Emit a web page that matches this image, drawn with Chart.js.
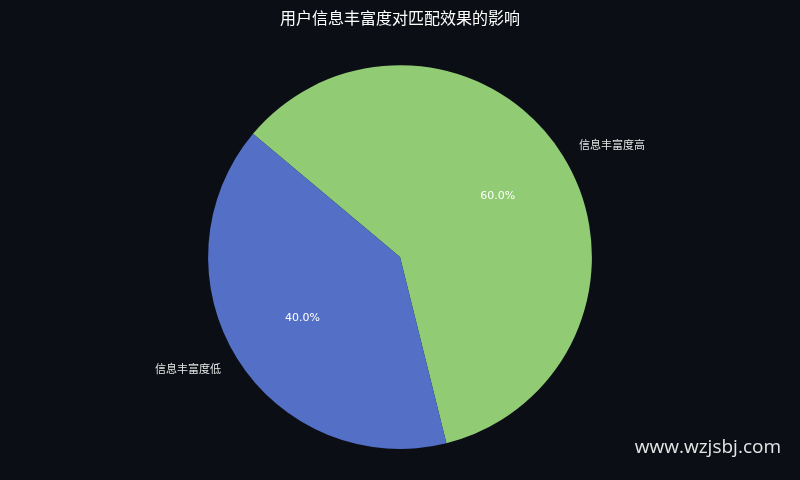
<!DOCTYPE html>
<html>
<head>
<meta charset="utf-8">
<script src="https://cdn.jsdelivr.net/npm/chart.js@4/dist/chart.umd.min.js"></script>
<style>
  html, body { margin: 0; padding: 0; background: #0b0e14; }
  #wrap { width: 800px; height: 480px; }
</style>
</head>
<body>
<div id="wrap"><canvas id="pie"></canvas></div>
<script>
// 데이터
const labels = ["信息丰富度高", "信息丰富度低"];
const values = [60, 40];
const colors = ["#91cc75", "#5470c6"];
const chartTitle = "用户信息丰富度对匹配效果的影响";
const watermark = "www.wzjsbj.com";

Chart.defaults.font.family = '"Noto Sans CJK SC", "Noto Sans", sans-serif';

// 조각 라벨 + 퍼센트 + 워터마크 그리기
const sliceLabels = {
  id: "sliceLabels",
  afterDatasetsDraw(chart) {
    const ctx = chart.ctx;
    const meta = chart.getDatasetMeta(0);
    const total = values.reduce((a, b) => a + b, 0);
    ctx.save();
    meta.data.forEach((arc, i) => {
      const { x, y, startAngle, endAngle, outerRadius } = arc.getProps(
        ["x", "y", "startAngle", "endAngle", "outerRadius"], true);
      const mid = (startAngle + endAngle) / 2;
      const cos = Math.cos(mid), sin = Math.sin(mid);

      // 퍼센트 (안쪽)
      ctx.font = '11px "DejaVu Sans", sans-serif';
      ctx.fillStyle = "#ffffff";
      ctx.textAlign = "center";
      ctx.textBaseline = "middle";
      const pct = (values[i] / total * 100).toFixed(1) + "%";
      ctx.fillText(pct, x + cos * outerRadius * 0.6, y + sin * outerRadius * 0.6);

      // 이름 (바깥)
      ctx.font = '11px "Noto Sans CJK SC", sans-serif';
      ctx.fillStyle = "#e6e6e6";
      ctx.textAlign = cos >= 0 ? "left" : "right";
      ctx.fillText(labels[i], x + cos * outerRadius * 1.1, y + sin * outerRadius * 1.1);
    });

    ctx.font = '19px "Open Sans", sans-serif';
    ctx.fillStyle = "#e6e6e6";
    ctx.textAlign = "right";
    ctx.textBaseline = "middle";
    ctx.fillText(watermark, 781, 448);
    ctx.restore();
  },
};

new Chart(document.getElementById("pie"), {
  type: "pie",
  data: {
    labels,
    datasets: [{
      data: values,
      backgroundColor: colors,
      borderWidth: 0,
    }],
  },
  options: {
    responsive: true,
    maintainAspectRatio: false,
    animation: false,
    rotation: -50,
    layout: { padding: { top: 0, bottom: 31, left: 0, right: 0 } },
    plugins: {
      legend: { display: false },
      tooltip: { enabled: false },
      title: {
        display: true,
        text: chartTitle,
        color: "#ffffff",
        font: { size: 16, weight: "normal" },
        padding: { top: 8, bottom: 38 },
      },
    },
  },
  plugins: [sliceLabels],
});
</script>
</body>
</html>
